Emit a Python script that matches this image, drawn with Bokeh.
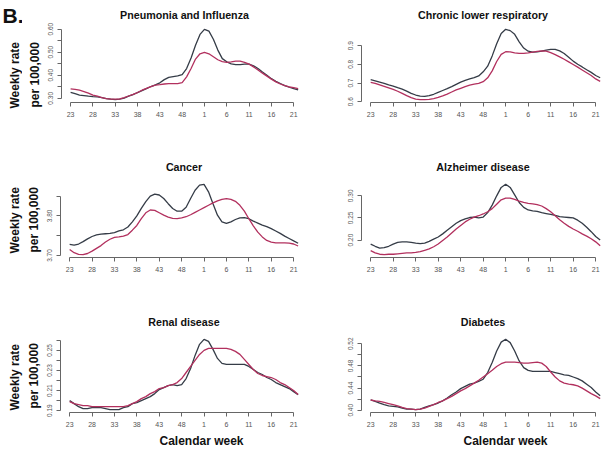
from bokeh.plotting import figure
from bokeh.layouts import column, row
from bokeh.models import FixedTicker, Title, Range1d
from bokeh.embed import file_html
from bokeh.resources import INLINE

# ---------------- data ----------------
weeks = list(range(23, 53)) + list(range(1, 23))
x_ticks = [0, 5, 10, 15, 20, 25, 30, 35, 40, 45, 50]
x_tick_labels = ["23", "28", "33", "38", "43", "48", "1", "6", "11", "16", "21"]

pi_black = [0.326, 0.320, 0.314, 0.312, 0.309, 0.307, 0.306, 0.303, 0.299, 0.296,
            0.294, 0.296, 0.301, 0.309, 0.316, 0.325, 0.333, 0.342, 0.351, 0.358,
            0.367, 0.381, 0.391, 0.394, 0.397, 0.403, 0.429, 0.475, 0.530, 0.577,
            0.599, 0.591, 0.556, 0.509, 0.472, 0.458, 0.449, 0.446, 0.446, 0.448,
            0.448, 0.441, 0.429, 0.414, 0.400, 0.385, 0.374, 0.364, 0.355, 0.348,
            0.342, 0.336]
pi_red = [0.341, 0.339, 0.335, 0.329, 0.322, 0.314, 0.309, 0.303, 0.299, 0.296,
          0.296, 0.297, 0.303, 0.310, 0.317, 0.325, 0.335, 0.343, 0.351, 0.357,
          0.359, 0.362, 0.364, 0.364, 0.364, 0.368, 0.393, 0.429, 0.470, 0.493,
          0.499, 0.493, 0.480, 0.467, 0.459, 0.456, 0.458, 0.461, 0.461, 0.456,
          0.448, 0.436, 0.423, 0.409, 0.396, 0.383, 0.371, 0.362, 0.355, 0.349,
          0.346, 0.342]
pi_yticks = [0.30, 0.35, 0.40, 0.45, 0.50, 0.55, 0.60]
pi_ylabels = ["0.30", "", "0.40", "", "0.50", "", "0.60"]

clr_black = [0.718, 0.712, 0.705, 0.698, 0.690, 0.684, 0.675, 0.667, 0.657, 0.645,
             0.636, 0.630, 0.629, 0.633, 0.640, 0.650, 0.660, 0.670, 0.681, 0.693,
             0.705, 0.714, 0.722, 0.729, 0.738, 0.760, 0.790, 0.845, 0.910, 0.965,
             0.987, 0.980, 0.960, 0.920, 0.887, 0.870, 0.865, 0.866, 0.870, 0.876,
             0.880, 0.880, 0.872, 0.858, 0.838, 0.817, 0.800, 0.786, 0.771, 0.757,
             0.740, 0.728]
clr_red = [0.704, 0.698, 0.690, 0.682, 0.674, 0.666, 0.656, 0.645, 0.633, 0.622,
           0.614, 0.611, 0.611, 0.613, 0.617, 0.623, 0.631, 0.641, 0.652, 0.663,
           0.672, 0.681, 0.689, 0.694, 0.698, 0.707, 0.728, 0.765, 0.815, 0.853,
           0.867, 0.866, 0.861, 0.858, 0.858, 0.861, 0.865, 0.869, 0.872, 0.870,
           0.862, 0.852, 0.840, 0.827, 0.813, 0.799, 0.785, 0.770, 0.755, 0.740,
           0.722, 0.709]
clr_yticks = [0.6, 0.7, 0.8, 0.9]
clr_ylabels = ["0.6", "0.7", "0.8", "0.9"]

can_black = [3.728, 3.726, 3.729, 3.735, 3.742, 3.748, 3.752, 3.754, 3.755, 3.756,
             3.758, 3.762, 3.765, 3.772, 3.785, 3.800, 3.819, 3.836, 3.850, 3.855,
             3.853, 3.844, 3.831, 3.819, 3.812, 3.812, 3.822, 3.844, 3.865, 3.878,
             3.880, 3.861, 3.831, 3.802, 3.785, 3.781, 3.785, 3.791, 3.795, 3.796,
             3.793, 3.787, 3.782, 3.777, 3.773, 3.768, 3.762, 3.756, 3.749, 3.743,
             3.737, 3.731]
can_red = [3.715, 3.707, 3.703, 3.702, 3.705, 3.711, 3.718, 3.725, 3.734, 3.741,
           3.746, 3.747, 3.749, 3.753, 3.764, 3.776, 3.793, 3.808, 3.815, 3.814,
           3.808, 3.802, 3.797, 3.794, 3.793, 3.795, 3.798, 3.803, 3.809, 3.815,
           3.821, 3.827, 3.833, 3.838, 3.842, 3.844, 3.842, 3.837, 3.827, 3.812,
           3.793, 3.775, 3.759, 3.747, 3.738, 3.734, 3.732, 3.732, 3.732, 3.731,
           3.729, 3.724]
can_yticks = [3.70, 3.75, 3.80, 3.85]
can_ylabels = ["3.70", "", "3.80", ""]

ad_black = [0.191, 0.186, 0.182, 0.183, 0.186, 0.191, 0.195, 0.196, 0.196, 0.195,
            0.193, 0.192, 0.193, 0.197, 0.202, 0.207, 0.214, 0.222, 0.230, 0.238,
            0.244, 0.248, 0.251, 0.252, 0.250, 0.252, 0.262, 0.279, 0.300, 0.319,
            0.326, 0.319, 0.302, 0.285, 0.274, 0.268, 0.266, 0.265, 0.262, 0.260,
            0.258, 0.256, 0.253, 0.252, 0.251, 0.250, 0.245, 0.238, 0.229, 0.219,
            0.208, 0.200]
ad_red = [0.176, 0.171, 0.168, 0.167, 0.168, 0.168, 0.169, 0.170, 0.171, 0.171,
          0.172, 0.174, 0.177, 0.180, 0.185, 0.191, 0.199, 0.207, 0.216, 0.225,
          0.233, 0.241, 0.247, 0.252, 0.255, 0.259, 0.264, 0.271, 0.281, 0.291,
          0.295, 0.295, 0.292, 0.288, 0.285, 0.283, 0.282, 0.280, 0.277, 0.271,
          0.264, 0.255, 0.246, 0.238, 0.231, 0.225, 0.220, 0.214, 0.209, 0.203,
          0.196, 0.187]
ad_yticks = [0.20, 0.25, 0.30]
ad_ylabels = ["0.20", "0.25", "0.30"]

ren_black = [0.200, 0.197, 0.194, 0.192, 0.192, 0.193, 0.193, 0.193, 0.192, 0.191,
             0.191, 0.191, 0.193, 0.194, 0.197, 0.198, 0.200, 0.202, 0.204, 0.207,
             0.211, 0.213, 0.215, 0.216, 0.215, 0.216, 0.222, 0.232, 0.245, 0.256,
             0.261, 0.259, 0.251, 0.242, 0.237, 0.236, 0.236, 0.236, 0.236, 0.236,
             0.234, 0.231, 0.228, 0.226, 0.223, 0.221, 0.218, 0.216, 0.214, 0.212,
             0.209, 0.206]
ren_red = [0.199, 0.197, 0.196, 0.195, 0.195, 0.194, 0.194, 0.194, 0.194, 0.194,
           0.194, 0.194, 0.194, 0.195, 0.197, 0.199, 0.202, 0.204, 0.207, 0.209,
           0.212, 0.213, 0.215, 0.216, 0.218, 0.222, 0.228, 0.234, 0.240, 0.246,
           0.250, 0.252, 0.252, 0.252, 0.252, 0.252, 0.251, 0.249, 0.246, 0.241,
           0.236, 0.231, 0.227, 0.225, 0.224, 0.223, 0.221, 0.218, 0.216, 0.213,
           0.210, 0.206]
ren_yticks = [0.19, 0.20, 0.21, 0.22, 0.23, 0.24, 0.25, 0.26]
ren_ylabels = ["0.19", "", "0.21", "", "0.23", "", "0.25", ""]

dia_black = [0.4185, 0.416, 0.413, 0.410, 0.408, 0.407, 0.406, 0.404, 0.402, 0.402,
             0.401, 0.402, 0.405, 0.408, 0.410, 0.413, 0.417, 0.422, 0.428, 0.433,
             0.439, 0.443, 0.447, 0.449, 0.452, 0.456, 0.468, 0.486, 0.507, 0.523,
             0.528, 0.522, 0.507, 0.489, 0.477, 0.472, 0.470, 0.470, 0.470, 0.470,
             0.470, 0.468, 0.466, 0.464, 0.463, 0.460, 0.457, 0.453, 0.447, 0.441,
             0.433, 0.426]
dia_red = [0.4185, 0.417, 0.416, 0.414, 0.412, 0.410, 0.408, 0.405, 0.403, 0.402,
           0.401, 0.402, 0.404, 0.407, 0.410, 0.414, 0.417, 0.421, 0.425, 0.430,
           0.435, 0.439, 0.444, 0.449, 0.454, 0.460, 0.466, 0.472, 0.479, 0.484,
           0.487, 0.487, 0.487, 0.486, 0.485, 0.485, 0.486, 0.487, 0.485, 0.479,
           0.469, 0.460, 0.453, 0.449, 0.447, 0.446, 0.444, 0.440, 0.435, 0.430,
           0.426, 0.421]
dia_yticks = [0.40, 0.42, 0.44, 0.46, 0.48, 0.50, 0.52]
dia_ylabels = ["0.40", "", "0.44", "", "0.48", "", "0.52"]

titles = ["Pneumonia and Influenza", "Chronic lower respiratory", "Cancer",
          "Alzheimer disease", "Renal disease", "Diabetes"]
panel_letter = "B."
ylab_1 = "Weekly rate"
ylab_2 = "per 100,000"
xlab = "Calendar week"

# ---------------- style / layout ----------------
FONT = "Liberation Sans"
BLACK_COL = "#353c47"
RED_COL = "#b2305e"
AXIS_COL = "#666666"
TICK_LABEL_COL = "#555555"

LETTER_W = 22                       # narrow strip holding "B." in row 1
col_width = [330, 274]
col_mbl = [60, 31]
col_mbr = [23, 0]
col_pxw = [4.48, 4.5]
row_height = [150, 155, 146]
row_mbt = [26, 31, 31]
row_mbb = [48, 48, 39]
row_title_standoff = [12, 17, 17]
ylab_offsets = [(-6, -5), (4, 5), (2, 4)]   # (Weekly rate, per 100,000)
xlab_offsets = [99, 102]

xs = list(range(len(weeks)))


def side_title(text, offset, standoff):
    return Title(text=text, align="left", offset=offset, standoff=standoff,
                 text_font=FONT, text_font_size="12px", text_font_style="bold",
                 text_color="#111111")


def panel(title, black, red, yticks, ylabels, col, r):
    width = col_width[col]
    mbl = col_mbl[col]
    if col == 0 and r == 0:
        width -= LETTER_W
        mbl -= LETTER_W
    frame_w = width - mbl - col_mbr[col]
    x0 = -0.04 * (len(xs) - 1)
    x_range = Range1d(x0, x0 + frame_w / col_pxw[col])
    allv = black + red
    lo, hi = min(allv), max(allv)
    pad = 0.04 * (hi - lo)
    p = figure(width=width, height=row_height[r],
               x_range=x_range, y_range=Range1d(lo - pad, hi + pad),
               output_backend="svg", toolbar_location=None,
               min_border_left=mbl, min_border_right=col_mbr[col],
               min_border_top=row_mbt[r], min_border_bottom=row_mbb[r],
               outline_line_color=None, background_fill_color="white",
               border_fill_color="white", title=title)
    p.xgrid.visible = False
    p.ygrid.visible = False
    p.title.align = "center"
    p.title.text_font = FONT
    p.title.text_font_size = "10.7px"
    p.title.text_font_style = "bold"
    p.title.text_color = "#111111"
    p.title.standoff = row_title_standoff[r]

    p.line(xs, black, line_color=BLACK_COL, line_width=1.3)
    p.line(xs, red, line_color=RED_COL, line_width=1.3)

    p.xaxis.ticker = FixedTicker(ticks=x_ticks, minor_ticks=[])
    p.xaxis.major_label_overrides = {t: l for t, l in zip(x_ticks, x_tick_labels)}
    p.xaxis.bounds = (x_ticks[0], x_ticks[-1])
    p.yaxis.ticker = FixedTicker(ticks=yticks, minor_ticks=[])
    p.yaxis.major_label_overrides = {t: l for t, l in zip(yticks, ylabels)}
    p.yaxis.bounds = (yticks[0], yticks[-1])
    p.yaxis.major_label_orientation = "vertical"
    for ax in (p.xaxis, p.yaxis):
        ax.axis_line_color = AXIS_COL
        ax.major_tick_line_color = AXIS_COL
        ax.major_tick_in = 0
        ax.major_tick_out = 4
        ax.major_label_text_font = FONT
        ax.major_label_text_color = TICK_LABEL_COL
    p.xaxis.major_label_text_font_size = "7px"
    p.yaxis.major_label_text_font_size = "6.5px"
    p.xaxis.major_label_standoff = 5
    p.yaxis.major_label_standoff = 4

    if col == 0:
        off_w, off_p = ylab_offsets[r]
        p.add_layout(side_title(ylab_2, off_p, 7), "left")
        if r != 0:
            p.add_layout(side_title(ylab_1, off_w, 0), "left")
    if r == 2:
        p.add_layout(side_title(xlab, xlab_offsets[col], 5), "below")
    return p


series = [(pi_black, pi_red, pi_yticks, pi_ylabels),
          (clr_black, clr_red, clr_yticks, clr_ylabels),
          (can_black, can_red, can_yticks, can_ylabels),
          (ad_black, ad_red, ad_yticks, ad_ylabels),
          (ren_black, ren_red, ren_yticks, ren_ylabels),
          (dia_black, dia_red, dia_yticks, dia_ylabels)]

plots = []
for i, (b, rd, yt, yl) in enumerate(series):
    plots.append(panel(titles[i], b, rd, yt, yl, i % 2, i // 2))

# narrow strip at the far left of row 1: panel letter + first y-label line
strip = figure(width=LETTER_W, height=row_height[0], x_range=Range1d(0, 1),
               y_range=Range1d(0, 1), x_axis_location=None, y_axis_location=None,
               output_backend="svg", toolbar_location=None,
               min_border_left=LETTER_W - 1, min_border_right=0,
               min_border_top=row_mbt[0], min_border_bottom=row_mbb[0],
               outline_line_color=None, background_fill_color="white",
               border_fill_color="white", title=panel_letter)
strip.grid.visible = False
strip.title.align = "left"
strip.title.offset = -(LETTER_W - 3)
strip.title.standoff = 0
strip.title.text_font = FONT
strip.title.text_font_size = "21px"
strip.title.text_font_style = "bold"
strip.title.text_color = "#111111"
strip.add_layout(side_title(ylab_1, ylab_offsets[0][0], 0), "left")

layout = column(row(strip, plots[0], plots[1]), row(plots[2], plots[3]),
                row(plots[4], plots[5]))

open("out.html", "w").write(file_html(layout, INLINE))
